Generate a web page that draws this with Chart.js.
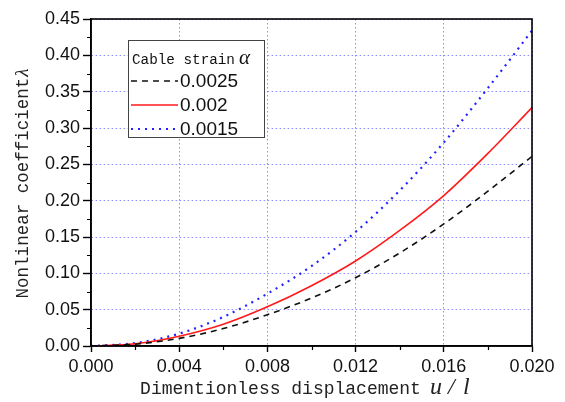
<!DOCTYPE html>
<html><head><meta charset="utf-8">
<script src="https://cdn.jsdelivr.net/npm/chart.js@4"></script>
<style>html,body{margin:0;padding:0;background:#fff}#wrap{width:565px;height:402px}</style>
</head><body><div id="wrap"><canvas id="c" width="565" height="402"></canvas></div>
<script>
const displacement = [0, 0.002, 0.004, 0.006, 0.008, 0.010, 0.012, 0.014, 0.016, 0.018, 0.020];
const strain0025 = [0, 0.0025, 0.0105, 0.024, 0.043, 0.066, 0.094, 0.128, 0.168, 0.213, 0.261];
const strain002  = [0, 0.003, 0.0135, 0.030, 0.054, 0.083, 0.117, 0.159, 0.207, 0.265, 0.328];
const strain0015 = [0, 0.004, 0.017, 0.040, 0.072, 0.110, 0.157, 0.214, 0.280, 0.355, 0.434];
const seriesLabels = ['0.0025', '0.002', '0.0015'];
const xTickValues = [0, 0.004, 0.008, 0.012, 0.016, 0.020];
const yTickValues = [0, 0.05, 0.10, 0.15, 0.20, 0.25, 0.30, 0.35, 0.40, 0.45];
const xMinorTicks = [0.002, 0.006, 0.010, 0.014, 0.018];
const yMinorTicks = [0.025, 0.075, 0.125, 0.175, 0.225, 0.275, 0.325, 0.375, 0.425];
const legendTitle = 'Cable strain';
const xTitle = 'Dimentionless displacement';
const yTitle = 'Nonlinear coefficient';

const toPts = arr => displacement.map((x, i) => ({x: x, y: arr[i]}));

const styles = [
  {color: '#111111', dash: [6, 5], width: 1.6},
  {color: '#ff1a1a', dash: [], width: 1.6},
  {color: '#2222ff', dash: [2, 5], width: 2.2}
];
const seriesData = [strain0025, strain002, strain0015];

const extras = {
  id: 'extras',
  afterDraw(chart) {
    const ctx = chart.ctx, a = chart.chartArea;
    const xs = chart.scales.x, ys = chart.scales.y;
    ctx.save();
    // frame
    ctx.strokeStyle = '#000'; ctx.lineWidth = 1.6; ctx.setLineDash([]);
    ctx.strokeRect(a.left, a.top, a.right - a.left, a.bottom - a.top);
    // minor ticks
    ctx.lineWidth = 1.2;
    ctx.beginPath();
    xMinorTicks.forEach(v => { const p = Math.round(xs.getPixelForValue(v)) + 0.5; ctx.moveTo(p, a.bottom); ctx.lineTo(p, a.bottom + 4); });
    yMinorTicks.forEach(v => { const p = Math.round(ys.getPixelForValue(v)) + 0.5; ctx.moveTo(a.left, p); ctx.lineTo(a.left - 4, p); });
    ctx.stroke();
    // x title
    ctx.fillStyle = '#222';
    ctx.textBaseline = 'alphabetic';
    ctx.textAlign = 'left';
    ctx.font = '18px "Liberation Mono"';
    const w1 = ctx.measureText(xTitle).width;
    const sx = 143 + (275 - w1) / 2;
    ctx.fillText(xTitle, sx, 394);
    ctx.font = 'italic 24px "Liberation Serif"';
    ctx.fillText('u', 430, 394);
    ctx.fillText('/', 448, 394);
    ctx.fillText('l', 463, 394);
    // y title
    ctx.save();
    ctx.translate(28, 184);
    ctx.rotate(-Math.PI / 2);
    ctx.font = '17.5px "Liberation Mono"';
    const w3 = ctx.measureText(yTitle).width;
    ctx.font = 'italic 19px "Liberation Serif"';
    const w4 = ctx.measureText('\u03bb').width;
    const sy = -(w3 + w4) / 2;
    ctx.font = '17.5px "Liberation Mono"';
    ctx.fillText(yTitle, sy, 0);
    ctx.font = 'italic 19px "Liberation Serif"';
    ctx.fillText('\u03bb', sy + w3 + 1, 0);
    ctx.restore();
    // legend
    ctx.fillStyle = '#fff';
    ctx.fillRect(128, 40, 136, 97);
    ctx.strokeStyle = '#444'; ctx.lineWidth = 1;
    ctx.strokeRect(128.5, 40.5, 136, 97);
    ctx.fillStyle = '#111';
    ctx.font = '14.3px "Liberation Mono"';
    ctx.fillText(legendTitle, 132, 64);
    ctx.font = 'italic 21px "Liberation Serif"';
    ctx.fillText('\u03b1', 239, 64);
    const rowsY = [81, 105, 129];
    seriesLabels.forEach((lab, i) => {
      const s = styles[i];
      ctx.strokeStyle = s.color; ctx.lineWidth = s.width; ctx.setLineDash(s.dash);
      ctx.beginPath(); ctx.moveTo(131, rowsY[i]); ctx.lineTo(178, rowsY[i]); ctx.stroke();
      ctx.setLineDash([]);
      ctx.fillStyle = '#111';
      ctx.font = '19px "Liberation Sans"';
      ctx.textBaseline = 'middle';
      ctx.fillText(lab, 180, rowsY[i] + 1);
      ctx.textBaseline = 'alphabetic';
    });
    ctx.restore();
  }
};

new Chart(document.getElementById('c'), {
  type: 'line',
  data: {
    datasets: seriesData.map((arr, i) => ({
      label: seriesLabels[i],
      data: toPts(arr),
      borderColor: styles[i].color,
      borderWidth: styles[i].width,
      borderDash: styles[i].dash,
      pointRadius: 0,
      fill: false,
      cubicInterpolationMode: 'monotone'
    }))
  },
  options: {
    responsive: false,
    animation: false,
    devicePixelRatio: 1,
    layout: {padding: {left: 0, top: 19, right: 33, bottom: 0}},
    plugins: {legend: {display: false}, tooltip: {enabled: false}},
    scales: {
      x: {
        type: 'linear', min: 0, max: 0.02,
        afterBuildTicks: s => { s.ticks = xTickValues.map(v => ({value: v})); },
        afterFit: s => { s.height = 56; },
        ticks: {color: '#111', font: {family: 'Liberation Sans', size: 18}, padding: 4, maxRotation: 0,
                callback: v => Number(v).toFixed(3)},
        grid: {color: 'rgba(110,110,255,0.8)', lineWidth: 1, tickColor: '#000', tickLength: 6, tickWidth: 1.4},
        border: {display: true, color: '#000', width: 1.6, dash: [1.5, 2.5]}
      },
      y: {
        type: 'linear', min: 0, max: 0.45,
        afterBuildTicks: s => { s.ticks = yTickValues.map(v => ({value: v})); },
        afterFit: s => { s.width = 91; },
        ticks: {color: '#111', font: {family: 'Liberation Sans', size: 18}, padding: 3,
                callback: v => Number(v).toFixed(2)},
        grid: {color: 'rgba(110,110,255,0.8)', lineWidth: 1, tickColor: '#000', tickLength: 8, tickWidth: 1.4},
        border: {display: true, color: '#000', width: 1.6, dash: [1.5, 2.5]}
      }
    }
  },
  plugins: [extras]
});
</script></body></html>
